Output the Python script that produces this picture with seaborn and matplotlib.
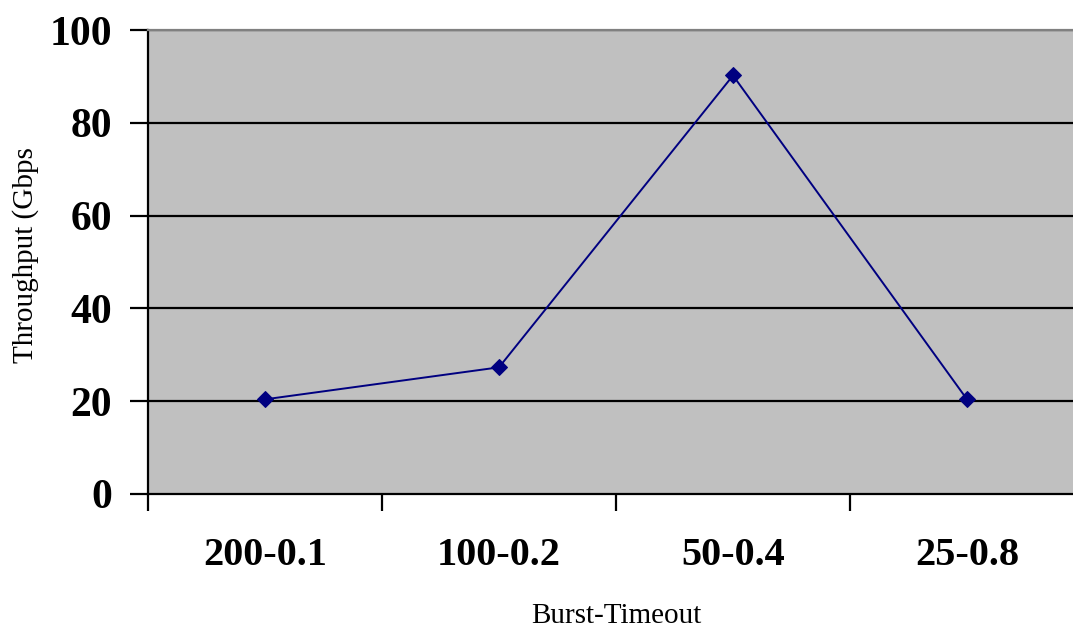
import matplotlib
matplotlib.use("Agg")
import matplotlib.pyplot as plt
import seaborn as sns
import pandas as pd
import numpy as np

categories = ["200-0.1", "100-0.2", "50-0.4", "25-0.8"]
throughput = [20.4, 27.3, 90.2, 20.4]
y_ticks = [0, 20, 40, 60, 80, 100]

sns.set_style("white")
plt.rcParams['font.family'] = ['Liberation Serif', 'DejaVu Serif']
plt.rcParams['text.color'] = 'black'
plt.rcParams['xtick.color'] = 'black'
plt.rcParams['ytick.color'] = 'black'
plt.rcParams['axes.labelcolor'] = 'black'

df = pd.DataFrame({"x": np.arange(len(categories)), "y": throughput})

fig = plt.figure(figsize=(10.73, 6.28), dpi=100)
W, H = 1073, 628
left, right, top, bottom = 148, 1084, 30, 494
ax = fig.add_axes([left / W, 1 - bottom / H, (right - left) / W, (bottom - top) / H])
ax.set_facecolor("#C0C0C0")

for yv in y_ticks[1:]:
    ax.axhline(yv, color="black", lw=1.6, zorder=1)

sns.lineplot(data=df, x="x", y="y", ax=ax, color="#000080", lw=1.4,
             marker="D", markersize=8.5, markeredgecolor="#000080", zorder=3)

ax.set_xlim(-0.5, len(categories) - 0.5)
ax.set_ylim(0, 100)
ax.set_yticks(y_ticks)
ax.set_yticklabels([str(v) for v in y_ticks], fontsize=30, fontweight="bold")
ax.tick_params(axis="y", direction="out", length=13, width=1.6, pad=13, color="black", left=True)

ax.set_xticks(np.arange(len(categories)))
ax.set_xticklabels(categories, fontsize=29, fontweight="bold")
ax.tick_params(axis="x", which="major", length=0, pad=31)
ax.set_xticks(np.arange(len(categories) + 1) - 0.5, minor=True)
ax.tick_params(axis="x", which="minor", direction="out", length=12, width=1.6, color="black", bottom=True)

for s in ["left", "bottom"]:
    ax.spines[s].set_color("black")
    ax.spines[s].set_linewidth(1.6)
ax.spines["top"].set_color("#808080")
ax.spines["top"].set_linewidth(1.6)
ax.spines["right"].set_visible(False)

ax.set_xlabel("")
ax.set_ylabel("")
fig.text(616 / W, 1 - 623 / H, "Burst-Timeout", fontsize=21, ha="center", va="baseline")
fig.text(26 / W, 1 - 255 / H, "Throughput (Gbps", fontsize=21, ha="center", va="center", rotation=90)

fig.savefig("out.png", dpi=100)
